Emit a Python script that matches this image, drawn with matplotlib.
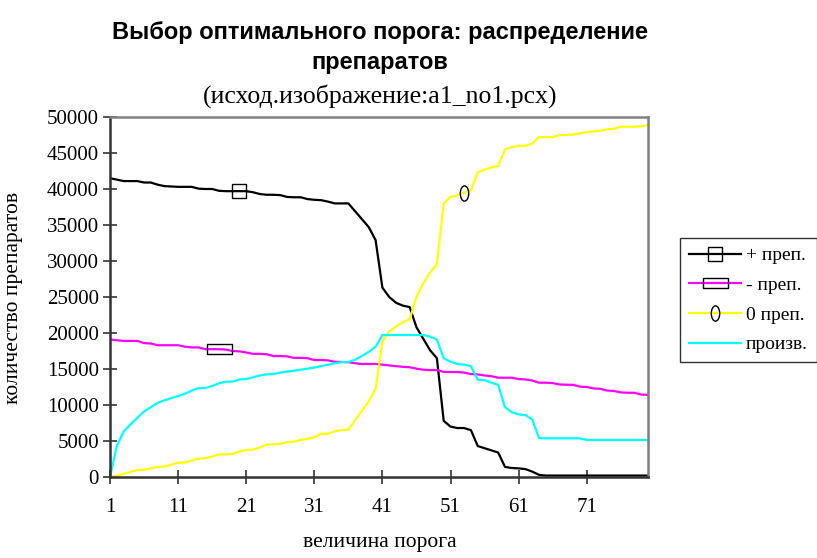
import numpy as np
import matplotlib
matplotlib.use("Agg")
import matplotlib.pyplot as plt
from matplotlib.path import Path
from matplotlib.transforms import Affine2D

# threshold values 1..80
porog = list(range(1, 81))

plus_prep = [41500, 41300, 41100, 41100, 41100, 40900, 40900, 40600, 40400, 40350,
             40300, 40300, 40300, 40050, 40000, 40000, 39750, 39700, 39700, 39700,
             39700, 39550, 39300, 39200, 39200, 39150, 38900, 38850, 38850, 38600,
             38500, 38450, 38250, 38000, 38000, 38000, 36900, 35800, 34700, 32900,
             26300, 25000, 24200, 23800, 23600, 20800, 19200, 17600, 16500, 7800,
             7000, 6800, 6800, 6500, 4300, 4000, 3700, 3400, 1400, 1250,
             1200, 1100, 750, 300, 200, 200, 200, 200, 200, 200,
             200, 200, 200, 200, 200, 200, 200, 200, 200, 200]

minus_prep = [19100, 19000, 18900, 18900, 18900, 18600, 18550, 18300, 18300, 18300,
              18300, 18100, 18000, 18000, 17750, 17750, 17750, 17700, 17500, 17450,
              17300, 17100, 17100, 17050, 16800, 16800, 16750, 16550, 16550, 16500,
              16250, 16250, 16200, 16000, 15970, 15950, 15800, 15700, 15700, 15700,
              15600, 15500, 15400, 15300, 15250, 15050, 14900, 14850, 14850, 14600,
              14580, 14580, 14500, 14300, 14250, 14100, 14000, 13800, 13790, 13790,
              13600, 13550, 13400, 13100, 13100, 13050, 12850, 12820, 12800, 12550,
              12500, 12300, 12250, 12000, 11950, 11750, 11700, 11700, 11450, 11400]

zero_prep = [0, 150, 450, 700, 950, 1000, 1200, 1400, 1450, 1700,
             2000, 2000, 2300, 2550, 2600, 2850, 3150, 3150, 3200, 3550,
             3750, 3800, 4100, 4500, 4550, 4600, 4850, 4900, 5150, 5300,
             5500, 6000, 6000, 6350, 6500, 6550, 7900, 9200, 10500, 12200,
             18800, 20200, 20900, 21500, 21900, 25000, 26900, 28400, 29500, 38000,
             38900, 39100, 39500, 39800, 42300, 42700, 43000, 43200, 45500, 45800,
             46000, 46000, 46300, 47200, 47200, 47200, 47500, 47500, 47550, 47750,
             47900, 48000, 48100, 48300, 48350, 48650, 48650, 48650, 48700, 48900]

proizv = [0, 4300, 6300, 7300, 8200, 9100, 9700, 10300, 10650, 10950,
          11250, 11550, 12000, 12350, 12350, 12650, 13000, 13250, 13250, 13550,
          13600, 13850, 14100, 14250, 14300, 14500, 14650, 14770, 14900, 15050,
          15200, 15400, 15600, 15800, 15950, 15970, 16300, 16800, 17400, 18100,
          19720, 19720, 19720, 19720, 19720, 19720, 19720, 19500, 19100, 16500,
          16000, 15700, 15600, 15400, 13500, 13450, 13100, 12800, 9700, 9000,
          8700, 8600, 8000, 5400, 5370, 5370, 5370, 5370, 5370, 5370,
          5150, 5150, 5150, 5150, 5150, 5150, 5150, 5150, 5150, 5150]

xticks = [1, 11, 21, 31, 41, 51, 61, 71]
yticks = list(range(0, 50001, 5000))

serif = "Liberation Serif"
sans = "Liberation Sans"

# custom markers
rect_marker = Path([(-1.25, -0.5), (1.25, -0.5), (1.25, 0.5), (-1.25, 0.5), (-1.25, -0.5)],
                   [Path.MOVETO, Path.LINETO, Path.LINETO, Path.LINETO, Path.CLOSEPOLY])
oval_marker = Path.unit_circle().transformed(Affine2D().scale(0.55, 1.0))

fig = plt.figure(figsize=(8.17, 5.58), dpi=100)
ax = fig.add_axes([110 / 817, 1 - 477 / 558, 538 / 817, 360 / 558])

ax.plot(porog, plus_prep, color="black", lw=1.6, marker="s", markevery=[19],
        ms=9.5, mfc="none", mec="black", mew=1.0, label="+ преп.")
ax.plot(porog, minus_prep, color="#FF00FF", lw=1.6, marker=rect_marker, markevery=[16],
        ms=18, mfc="none", mec="black", mew=1.0, label="- преп.")
ax.plot(porog, zero_prep, color="#FFFF00", lw=1.6, marker=oval_marker, markevery=[52],
        ms=11, mfc="none", mec="black", mew=1.0, label="0 преп.")
ax.plot(porog, proizv, color="#00FFFF", lw=1.6, label="произв.")

ax.set_xlim(1, 80)
ax.set_ylim(0, 50000)
ax.set_xticks(xticks)
ax.set_yticks(yticks)
ax.set_xticklabels([str(t) for t in xticks], fontfamily=serif, fontsize=15)
ax.set_yticklabels([str(t) for t in yticks], fontfamily=serif, fontsize=15)
ax.tick_params(axis="x", direction="inout", length=10, width=1.2, pad=10, color="#333333")
ax.tick_params(axis="y", direction="inout", length=10, width=1.2, pad=3, color="#333333")

for s in ["left", "bottom"]:
    ax.spines[s].set_color("#333333")
    ax.spines[s].set_linewidth(1.8)
for s in ["top", "right"]:
    ax.spines[s].set_color("#808080")
    ax.spines[s].set_linewidth(1.8)

fig.text(380 / 817, 1 - 33 / 558, "Выбор оптимального порога: распределение",
         ha="center", va="center", fontfamily=sans, fontweight="bold", fontsize=17)
fig.text(380 / 817, 1 - 62 / 558, "препаратов",
         ha="center", va="center", fontfamily=sans, fontweight="bold", fontsize=17)
fig.text(380 / 817, 1 - 96 / 558, "(исход.изображение:a1_no1.pcx)",
         ha="center", va="center", fontfamily=serif, fontsize=18.5)

fig.text(14 / 817, 1 - 298 / 558, "количество препаратов", rotation=90,
         ha="center", va="center", fontfamily=serif, fontsize=15.5)
fig.text(380 / 817, 1 - 543 / 558, "величина порога",
         ha="center", va="center", fontfamily=serif, fontsize=15.5)

leg = ax.legend(loc="upper left", bbox_to_anchor=(680 / 817, 1 - 238 / 558),
                bbox_transform=fig.transFigure, frameon=True, fancybox=False,
                prop={"family": serif, "size": 14}, handlelength=2.7,
                handletextpad=0.25, labelspacing=0.62, borderpad=0.45,
                borderaxespad=0)
leg.get_frame().set_edgecolor("black")
leg.get_frame().set_linewidth(1.0)

fig.savefig("out.png", dpi=100)
